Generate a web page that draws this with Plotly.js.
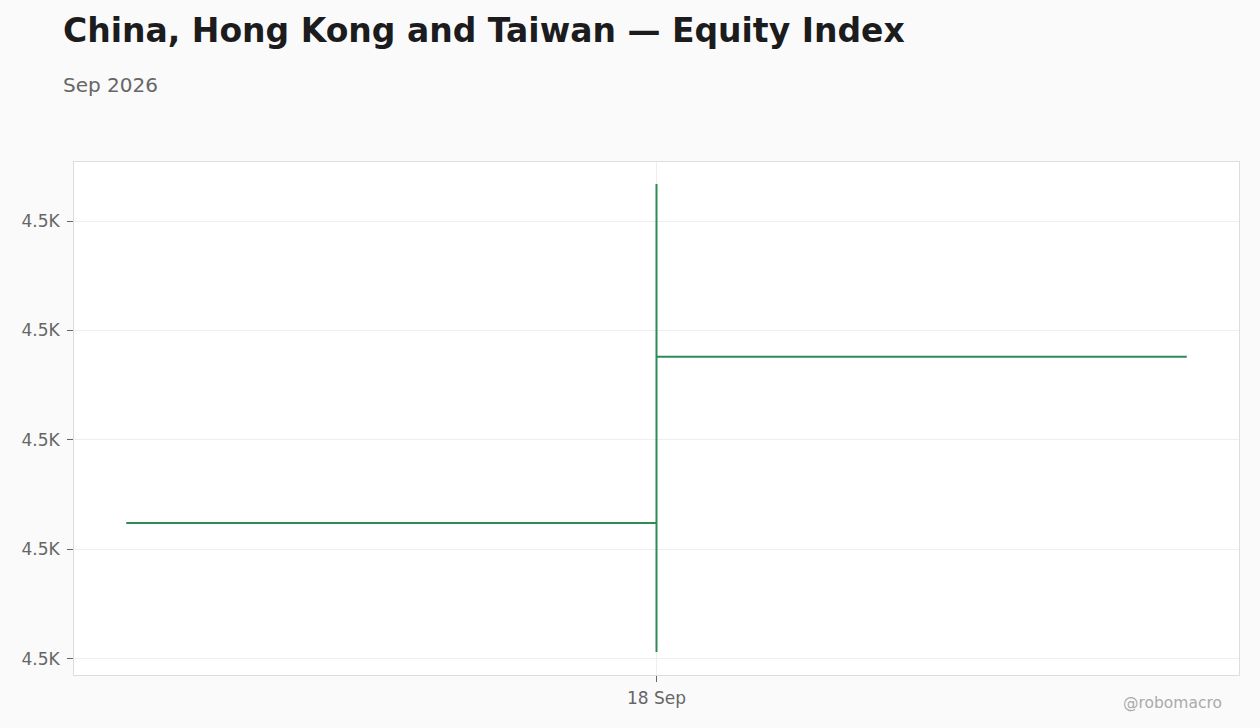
<!DOCTYPE html>
<html>
<head>
<meta charset="utf-8">
<script src="https://cdn.plot.ly/plotly-3.0.1.min.js"></script>
<style>
  html, body { margin: 0; padding: 0; background: #fafafa; }
  #chart { width: 1260px; height: 728px; }
</style>
</head>
<body>
<div id="chart"></div>
<script>
// one daily bar
const dates = ["2026-09-18"];
const opens = [4496.2];
const highs = [4511.7];
const lows = [4490.3];
const closes = [4503.8];

const yTickVals = [4490, 4495, 4500, 4505, 4510];
const yTickText = ["4.5K", "4.5K", "4.5K", "4.5K", "4.5K"];

const trace = {
  type: "ohlc",
  x: dates,
  open: opens,
  high: highs,
  low: lows,
  close: closes,
  tickwidth: 0.455,
  increasing: { line: { color: "#2e8b57", width: 2 } },
  decreasing: { line: { color: "#2e8b57", width: 2 } },
  hoverinfo: "skip"
};

const layout = {
  width: 1260,
  height: 728,
  paper_bgcolor: "#fafafa",
  plot_bgcolor: "#ffffff",
  font: { family: "DejaVu Sans", color: "#666" },
  margin: { l: 74, r: 21, t: 162, b: 53 },
  showlegend: false,
  title: {
    text: "<b>China, Hong Kong and Taiwan — Equity Index</b>",
    font: { size: 33, color: "#1c1c1e", family: "DejaVu Sans" },
    xref: "container", x: 0.05, xanchor: "left",
    yref: "container", y: 0.958, yanchor: "middle"
  },
  annotations: [
    {
      text: "Sep 2026",
      xref: "paper", yref: "paper",
      x: -0.0115, y: 1.15, xanchor: "left", yanchor: "middle",
      font: { size: 20, color: "#666" },
      showarrow: false
    },
    {
      text: "@robomacro",
      xref: "paper", yref: "paper",
      x: 0.987, y: -0.055, xanchor: "right", yanchor: "middle",
      font: { size: 15.5, color: "#aaa" },
      showarrow: false
    }
  ],
  xaxis: {
    type: "date",
    rangeslider: { visible: false },
    tickvals: dates,
    ticktext: ["18 Sep"],
    ticks: "outside",
    ticklen: 6,
    tickcolor: "#666",
    ticklabelstandoff: 2,
    tickfont: { size: 17, color: "#666" },
    showgrid: true,
    gridcolor: "#eeeeee",
    showline: true,
    linecolor: "#dddddd",
    mirror: true,
    zeroline: false
  },
  yaxis: {
    range: [4489.25, 4512.7],
    tickvals: yTickVals,
    ticktext: yTickText,
    ticks: "outside",
    ticklen: 6,
    tickcolor: "#666",
    ticklabelstandoff: 4,
    tickfont: { size: 17, color: "#666" },
    showgrid: true,
    gridcolor: "#eeeeee",
    showline: true,
    linecolor: "#dddddd",
    mirror: true,
    zeroline: false
  }
};

Plotly.newPlot("chart", [trace], layout, { displayModeBar: false, staticPlot: true });
</script>
</body>
</html>
